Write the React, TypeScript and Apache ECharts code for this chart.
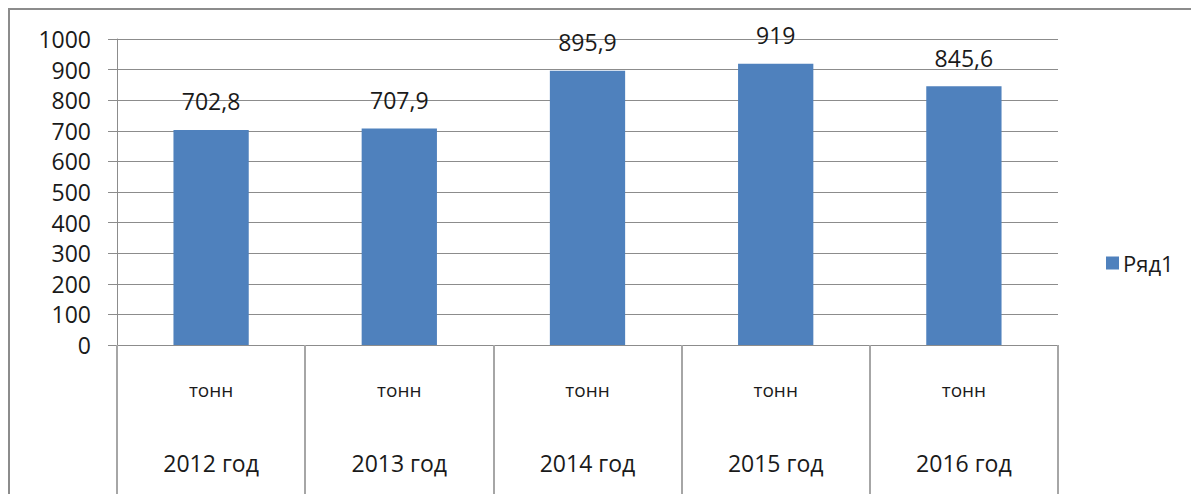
import React, { useEffect, useRef } from "react";
import * as echarts from "echarts";

const categories = ["2012 год", "2013 год", "2014 год", "2015 год", "2016 год"];
const unitLabel = "тонн";
const seriesName = "Ряд1";
const values = [702.8, 707.9, 895.9, 919, 845.6];
const yMin = 0;
const yMax = 1000;
const yStep = 100;

const FONT = "'Open Sans', sans-serif";

export default function App() {
  const ref = useRef<HTMLDivElement>(null);

  useEffect(() => {
    if (!ref.current) return;
    const chart = echarts.init(ref.current, null, { renderer: "svg" });
    chart.setOption({
      animation: false,
      backgroundColor: "#ffffff",
      textStyle: { fontFamily: FONT },
      graphic: [
        {
          type: "rect",
          shape: { x: 9, y: 9, width: 1400, height: 700 },
          style: { fill: "none", stroke: "#8c8c8c", lineWidth: 2 },
          silent: true,
        },
      ],
      legend: {
        show: true,
        left: 1101,
        top: 245,
        itemWidth: 13,
        itemHeight: 13,
        icon: "rect",
        data: [seriesName],
        textStyle: { fontFamily: FONT, fontSize: 22, color: "#1a1a1a", lineHeight: 26, padding: [0, 0, 0, -1] },
      },
      grid: { left: 117, top: 39, right: 133, bottom: 149, containLabel: false },
      xAxis: {
        type: "category",
        data: categories,
        boundaryGap: true,
        axisLine: { show: true, lineStyle: { color: "#8c8c8c", width: 1 } },
        axisTick: { show: true, length: 152, lineStyle: { color: "#a6a6a6", width: 2 } },
        splitLine: { show: false },
        axisLabel: {
          interval: 0,
          margin: 30,
          formatter: (v: string) => `{a|${unitLabel}}\n{b|${v}}`,
          rich: {
            a: { fontFamily: FONT, fontSize: 19, lineHeight: 30, color: "#1a1a1a" },
            b: { fontFamily: FONT, fontSize: 23, lineHeight: 116, color: "#1a1a1a" },
          },
        },
      },
      yAxis: {
        type: "value",
        min: yMin,
        max: yMax,
        interval: yStep,
        axisLine: { show: true, lineStyle: { color: "#8c8c8c", width: 1 } },
        axisTick: { show: true, length: 9, lineStyle: { color: "#8c8c8c" } },
        splitLine: { show: true, lineStyle: { color: "#8c8c8c", width: 1 } },
        axisLabel: {
          margin: 26,
          fontFamily: FONT,
          fontSize: 23,
          color: "#1a1a1a",
          formatter: (v: number) => String(v),
        },
      },
      series: [
        {
          name: seriesName,
          type: "bar",
          data: values,
          barWidth: "40%",
          itemStyle: { color: "#4F81BD" },
          label: {
            show: true,
            position: "top",
            distance: 17,
            fontFamily: FONT,
            fontSize: 23,
            color: "#1a1a1a",
            formatter: (p: any) => String(p.value).replace(".", ","),
          },
        },
      ],
    });
    return () => chart.dispose();
  }, []);

  return (
    <div
      ref={ref}
      style={{ position: "absolute", left: 0, top: 0, width: 1191, height: 494 }}
    />
  );
}
